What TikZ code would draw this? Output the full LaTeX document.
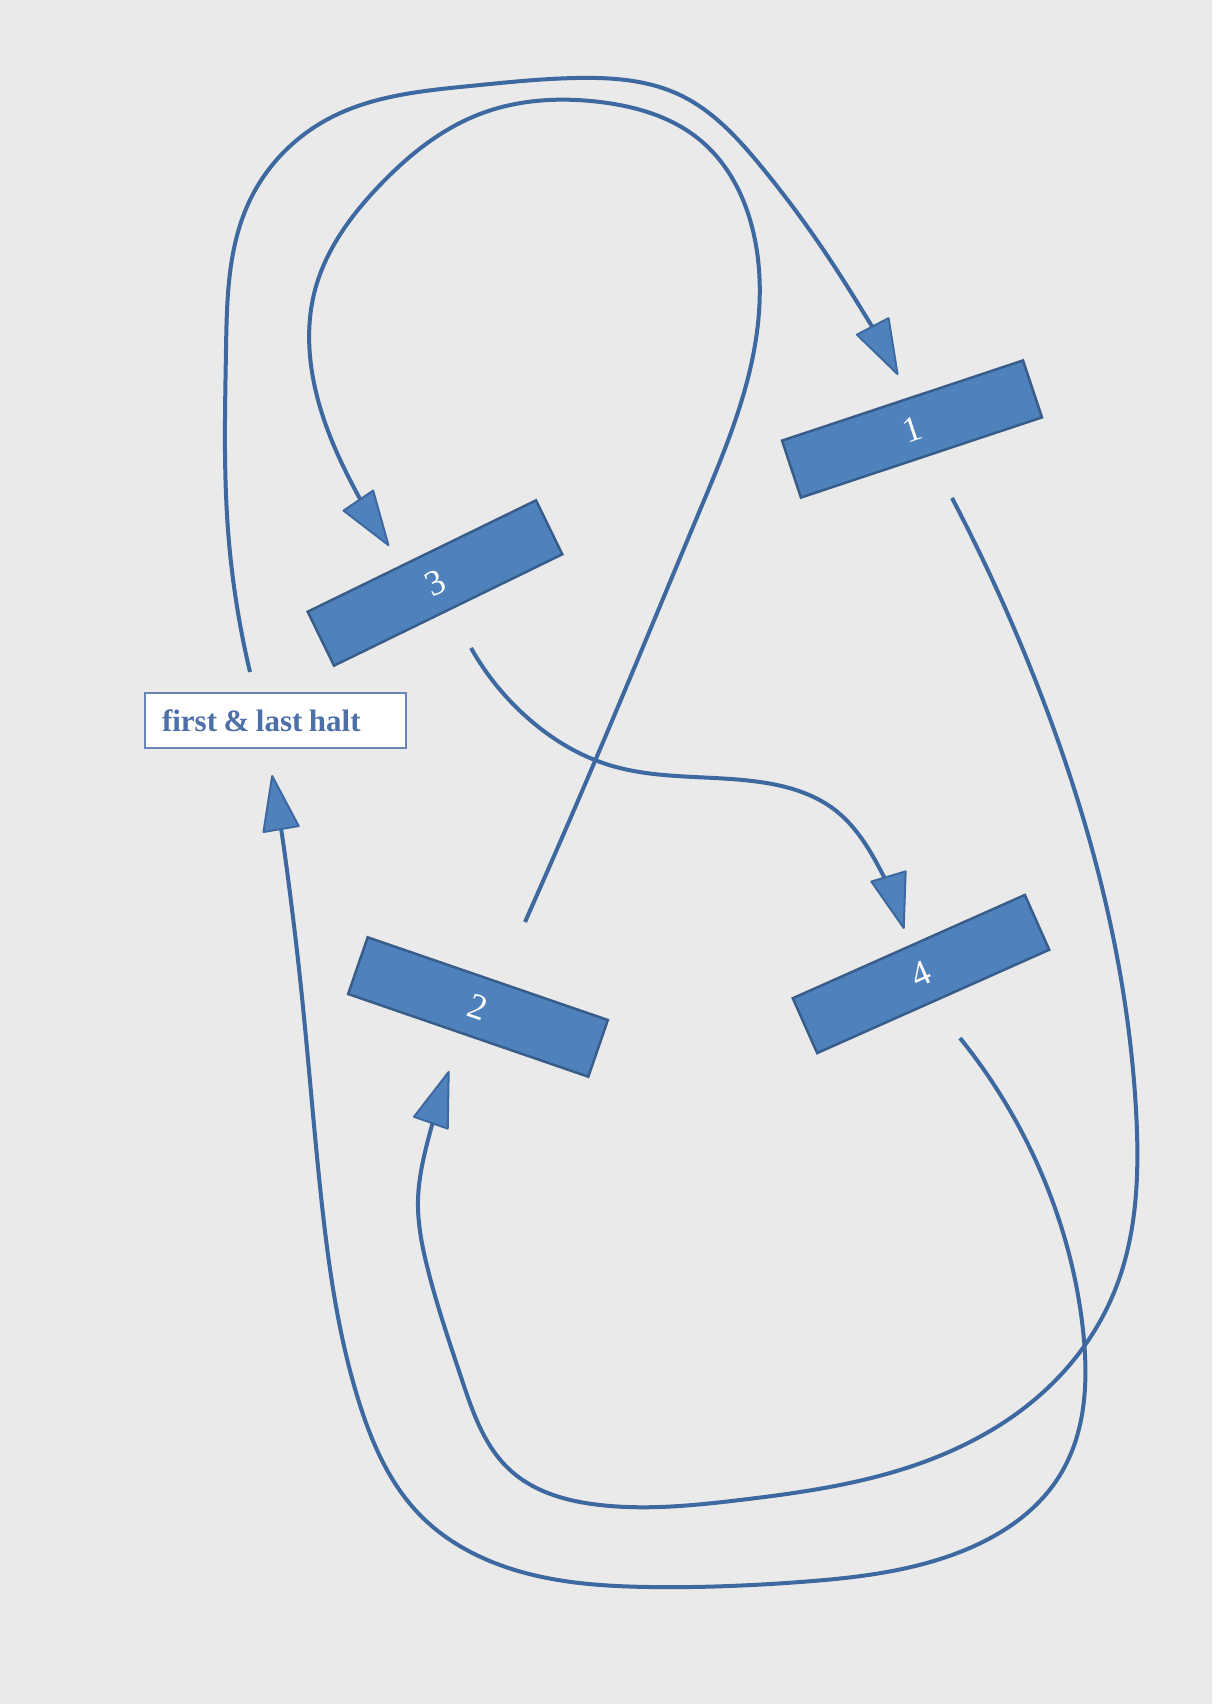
\documentclass[tikz,border=0pt]{standalone}
\usepackage{fontspec}
\setmainfont{Liberation Serif}
\usetikzlibrary{arrows.meta}
\usetikzlibrary{hobby}
\definecolor{paper}{RGB}{234,234,234}
\definecolor{stopfill}{RGB}{79,129,189}
\definecolor{stopdraw}{RGB}{56,93,138}
\definecolor{routeblue}{RGB}{61,104,160}
\definecolor{haltblue}{RGB}{77,112,168}
\newcommand{\tightwords}{\spaceskip=6.5pt\relax}

\begin{document}
\begin{tikzpicture}[x=1pt, y=-1pt, use Hobby shortcut,
	stop/.style={draw=stopdraw, fill=stopfill, line width=2.5pt, minimum width=254pt, minimum height=60pt, inner sep=0pt, text=white, font=\fontsize{36}{36}\selectfont},
	halt/.style={draw=haltblue!85, fill=white, line width=2.5pt, minimum height=55pt, text width=227pt, inner xsep=17pt, align=left, text=haltblue, font=\bfseries\fontsize{31}{31}\selectfont},
	route/.style={draw=routeblue, line width=4pt, -{Triangle[length=58pt, width=38pt, fill=stopfill, line width=2pt, round]}}]
	\fill[paper] (0,0) rectangle (1212,1704);

	\node [stop, rotate=18.4] (s1) at (912,429) {1};
	\node [stop, rotate=-19] (s2) at (478,1007) {2};
	\node [stop, rotate=26] (s3) at (435,583) {3};
	\node [stop, rotate=24] (s4) at (921,974) {4};
	\node [halt] (first) at (275.5,720.5) {\tightwords first \& last halt};

	\coordinate (first_out) at (250,672);
	\coordinate (first_in) at (272,775);
	\coordinate (s1_in) at (898,375);
	\coordinate (s1_out) at (952,498);
	\coordinate (s2_in) at (449,1071);
	\coordinate (s2_out) at (525,922);
	\coordinate (s3_in) at (389,546);
	\coordinate (s3_out) at (471,648);
	\coordinate (s4_in) at (904,929);
	\coordinate (s4_out) at (960,1038);

	% halt -> 1
	\draw[route] (first_out) .. (228,530) .. (226,350) .. (250,200) .. (330,118) .. (470,86) .. (576,78) .. (680,95) .. (760,165) .. (840,275) .. (s1_in);
	% 1 -> 2
	\draw[route] (s1_out) .. (1043,700) .. (1105,900) .. (1136,1110) .. (1115,1290) .. (1040,1395) .. (900,1470) .. (740,1500) .. (600,1505) .. (510,1470) .. (462,1380) .. (428,1270) .. (418,1200) .. (428,1140) .. (s2_in);
	% 2 -> 3
	\draw[route] (s2_out) .. (609,728) .. (700,510) .. (755,345) .. (755,240) .. (700,140) .. (600,102) .. (480,114) .. (380,185) .. (315,290) .. (318,400) .. (350,480) .. (s3_in);
	% 3 -> 4
	\draw[route] (s3_out) .. (530,720) .. (609,765) .. (760,782) .. (835,810) .. (875,860) .. (s4_in);
	% 4 -> halt
	\draw[route] (s4_out) .. (1040,1170) .. (1083,1330) .. (1060,1475) .. (960,1552) .. (800,1582) .. (650,1587) .. (500,1565) .. (420,1515) .. (359,1402) .. (321,1196) .. (300,978) .. (first_in);
\end{tikzpicture}
\end{document}
